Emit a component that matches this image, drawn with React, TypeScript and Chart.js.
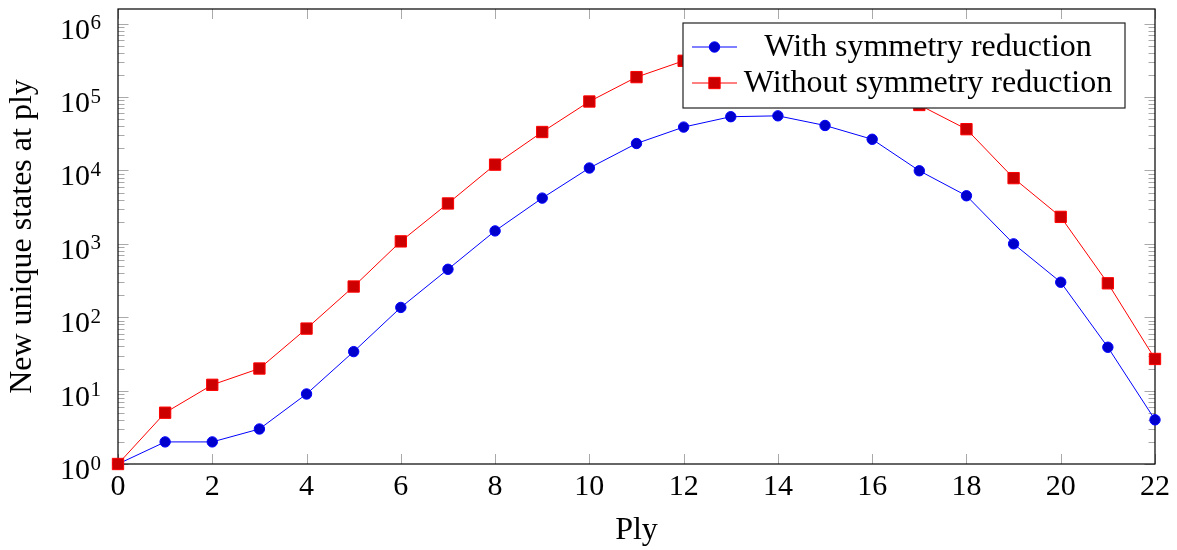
import React, { useEffect, useRef } from "react";
import { Chart, registerables } from "chart.js";

Chart.register(...registerables);

// ---- data ----
const plies = [0, 1, 2, 3, 4, 5, 6, 7, 8, 9, 10, 11, 12, 13, 14, 15, 16, 17, 18, 19, 20, 21, 22];
const withSymmetry = [1, 2, 2, 3, 9, 34, 136, 450, 1500, 4200, 10800, 23300, 39000, 54000, 55500, 41000, 26600, 9900, 4520, 1000, 300, 39, 4];
const withoutSymmetry = [1, 5, 12, 20, 70, 262, 1080, 3550, 12000, 33400, 87000, 187000, 312000, 430000, 445000, 330000, 213000, 78000, 36500, 7860, 2330, 290, 27];
const seriesLabels = ["With symmetry reduction", "Without symmetry reduction"];
const xTickValues = [0, 2, 4, 6, 8, 10, 12, 14, 16, 18, 20, 22];
const yDecades = [0, 1, 2, 3, 4, 5, 6];
const xTitle = "Ply";
const yTitle = "New unique states at ply";

const SERIF = "'Liberation Serif', 'Times New Roman', serif";
const BLUE_LINE = "rgb(0,0,255)";
const BLUE_FILL = "rgb(0,0,204)";
const RED_LINE = "rgb(255,0,0)";
const RED_FILL = "rgb(204,0,0)";

function drawMarker(ctx: CanvasRenderingContext2D, style: string, x: number, y: number, fill: string, stroke: string) {
  ctx.save();
  ctx.fillStyle = fill;
  ctx.strokeStyle = stroke;
  ctx.lineWidth = 1;
  ctx.beginPath();
  if (style === "circle") {
    ctx.arc(x, y, 5.2, 0, Math.PI * 2);
  } else {
    const s = 8 * Math.SQRT1_2;
    ctx.rect(x - s, y - s, 2 * s, 2 * s);
  }
  ctx.fill();
  ctx.stroke();
  ctx.restore();
}

const pgfAxisPlugin = {
  id: "pgfAxis",
  beforeDatasetsDraw(chart: any) {
    const { ctx, chartArea: a, scales } = chart;
    const xs = scales.x;
    const ys = scales.y;
    ctx.save();
    // tick marks (inside, both sides)
    ctx.strokeStyle = "#a9a9a9";
    ctx.lineWidth = 1;
    ctx.beginPath();
    for (const t of xTickValues) {
      const px = Math.round(xs.getPixelForValue(t)) + 0.5;
      ctx.moveTo(px, a.bottom);
      ctx.lineTo(px, a.bottom - 10);
      ctx.moveTo(px, a.top);
      ctx.lineTo(px, a.top + 10);
    }
    for (const d of yDecades) {
      for (let k = 1; k <= 9; k++) {
        const v = k * Math.pow(10, d);
        if (v > ys.max || v < ys.min) continue;
        const py = Math.round(ys.getPixelForValue(v)) + 0.5;
        const len = k === 1 ? 10.5 : 6.5;
        ctx.moveTo(a.left, py);
        ctx.lineTo(a.left + len, py);
        ctx.moveTo(a.right, py);
        ctx.lineTo(a.right - len, py);
      }
    }
    ctx.stroke();

    // frame
    ctx.strokeStyle = "#000";
    ctx.lineWidth = 1.2;
    ctx.strokeRect(a.left, a.top, a.right - a.left, a.bottom - a.top);

    // y tick labels 10^n
    ctx.fillStyle = "#000";
    for (const d of yDecades) {
      const py = ys.getPixelForValue(Math.pow(10, d));
      ctx.font = `30px ${SERIF}`;
      ctx.textAlign = "right";
      ctx.textBaseline = "alphabetic";
      ctx.fillText("10", a.left - 28, py + 15);
      ctx.font = `21px ${SERIF}`;
      ctx.textAlign = "left";
      ctx.fillText(String(d), a.left - 27.5, py + 5.5);
    }
    ctx.restore();
  },
  afterDatasetsDraw(chart: any) {
    const { ctx, chartArea: a } = chart;
    const lx = a.right - 472;
    const ly = a.top + 14;
    const lw = 442;
    const lh = 85;
    ctx.save();
    ctx.fillStyle = "#fff";
    ctx.fillRect(lx, ly, lw, lh);
    ctx.strokeStyle = "#222";
    ctx.lineWidth = 1.2;
    ctx.strokeRect(lx, ly, lw, lh);
    const styles = [
      { line: BLUE_LINE, fill: BLUE_FILL, marker: "circle" },
      { line: RED_LINE, fill: RED_FILL, marker: "rect" },
    ];
    seriesLabels.forEach((lab, i) => {
      const ry = ly + 24 + i * 36;
      const st = styles[i];
      ctx.strokeStyle = st.line;
      ctx.lineWidth = 1;
      ctx.beginPath();
      ctx.moveTo(lx + 9, ry);
      ctx.lineTo(lx + 54, ry);
      ctx.stroke();
      drawMarker(ctx, st.marker, lx + 31.5, ry, st.fill, st.line);
      ctx.fillStyle = "#000";
      ctx.font = `32px ${SERIF}`;
      ctx.textAlign = "center";
      ctx.textBaseline = "alphabetic";
      ctx.fillText(lab, lx + 245, ry + 9);
    });
    ctx.restore();
  },
};

export default function App() {
  const canvasRef = useRef<HTMLCanvasElement | null>(null);

  useEffect(() => {
    const canvas = canvasRef.current;
    if (!canvas) return;
    const chart = new Chart(canvas, {
      type: "line",
      data: {
        datasets: [
          {
            label: seriesLabels[0],
            data: plies.map((p, i) => ({ x: p, y: withSymmetry[i] })),
            borderColor: BLUE_LINE,
            backgroundColor: BLUE_FILL,
            borderWidth: 1,
            pointStyle: "circle",
            pointRadius: 5.2,
            pointBorderWidth: 1,
            pointBackgroundColor: BLUE_FILL,
            pointBorderColor: BLUE_LINE,
            tension: 0,
            clip: false,
            order: 1,
          },
          {
            label: seriesLabels[1],
            data: plies.map((p, i) => ({ x: p, y: withoutSymmetry[i] })),
            borderColor: RED_LINE,
            backgroundColor: RED_FILL,
            borderWidth: 1,
            pointStyle: "rect",
            pointRadius: 8,
            pointBorderWidth: 1,
            pointBackgroundColor: RED_FILL,
            pointBorderColor: RED_LINE,
            tension: 0,
            clip: false,
            order: 0,
          },
        ],
      },
      options: {
        animation: false,
        responsive: false,
        devicePixelRatio: 1,
        events: [],
        layout: { padding: { left: 0, top: 6, right: 22, bottom: 0 } },
        plugins: {
          legend: { display: false },
          tooltip: { enabled: false },
        },
        scales: {
          x: {
            type: "linear",
            min: 0,
            max: 22,
            afterBuildTicks: (axis: any) => {
              axis.ticks = xTickValues.map((v) => ({ value: v }));
            },
            afterFit: (axis: any) => {
              axis.height = 86;
            },
            ticks: {
              color: "#000",
              font: { family: SERIF, size: 30 },
              padding: 5.5,
              maxRotation: 0,
              autoSkip: false,
            },
            grid: { display: false, drawTicks: false },
            border: { display: false },
            title: {
              display: true,
              text: xTitle,
              color: "#000",
              font: { family: SERIF, size: 32 },
              padding: { top: 0, bottom: 0.6 },
            },
          },
          y: {
            type: "logarithmic",
            min: 1,
            max: Math.pow(10, 6.2),
            afterFit: (axis: any) => {
              axis.width = 118;
            },
            ticks: { display: false },
            grid: { display: false, drawTicks: false },
            border: { display: false },
            title: {
              display: true,
              text: yTitle,
              color: "#000",
              font: { family: SERIF, size: 32 },
              padding: { top: 3.5, bottom: 0 },
            },
          },
        },
      },
      plugins: [pgfAxisPlugin],
    });
    return () => chart.destroy();
  }, []);

  return (
    <div style={{ position: "fixed", left: 0, top: 0, width: 1177, height: 550, background: "#fff" }}>
      <canvas ref={canvasRef} width={1177} height={550} style={{ display: "block", width: 1177, height: 550 }} />
    </div>
  );
}
